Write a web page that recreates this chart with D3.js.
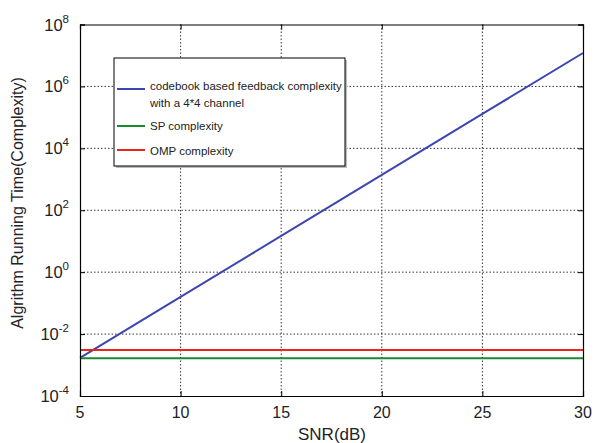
<!DOCTYPE html>
<html><head><meta charset="utf-8">
<script src="https://cdn.jsdelivr.net/npm/d3@7"></script>
<style>body{margin:0;background:#fff}text{font-family:"Liberation Sans",Arial,sans-serif}</style>
</head><body><svg id="c" width="596" height="443"></svg>
<script>
const snr = [5, 10, 15, 20, 25, 30];
const codebook = [1.7e-3, 0.158, 14.8, 1380, 1.29e5, 1.2e7];
const spVals = [1.65e-3, 1.65e-3, 1.65e-3, 1.65e-3, 1.65e-3, 1.65e-3];
const ompVals = [3.05e-3, 3.05e-3, 3.05e-3, 3.05e-3, 3.05e-3, 3.05e-3];
const xTicks = [5, 10, 15, 20, 25, 30];
const yExps = [-4, -2, 0, 2, 4, 6, 8];
const seriesNames = ["codebook based feedback complexity|with a 4*4 channel", "SP complexity", "OMP complexity"];
const seriesColors = ["#3d46b0", "#1a8a2e", "#e8261c"];

const svg = d3.select("#c");
const L = 80, R = 583, T = 24.5, B = 396;
const x = d3.scaleLinear().domain([5, 30]).range([L, R]);
const y = d3.scaleLog().domain([1e-4, 1e8]).range([B, T]);

// grid
const g = svg.append("g");
xTicks.slice(1, -1).forEach(v => g.append("line").attr("x1", x(v)).attr("x2", x(v)).attr("y1", T).attr("y2", B)
  .attr("stroke", "#000").attr("stroke-width", 0.8).attr("stroke-dasharray", "1.5,2"));
yExps.slice(1, -1).forEach(e => g.append("line").attr("x1", L).attr("x2", R).attr("y1", y(Math.pow(10, e))).attr("y2", y(Math.pow(10, e)))
  .attr("stroke", "#000").attr("stroke-width", 0.8).attr("stroke-dasharray", "1.5,2"));

// series
const line = d3.line().x((d, i) => x(snr[i])).y(d => y(d));
[codebook, spVals, ompVals].forEach((vals, k) => {
  svg.append("path").attr("d", line(vals)).attr("fill", "none").attr("stroke", seriesColors[k]).attr("stroke-width", 2);
});

// axes with inward ticks
const ax = svg.append("g");
const xa = d3.axisBottom(x).tickValues(xTicks).tickSize(-5).tickFormat("");
const xt = d3.axisTop(x).tickValues(xTicks).tickSize(-5).tickFormat("");
const ya = d3.axisLeft(y).tickValues(yExps.map(e => Math.pow(10, e))).tickSize(-5).tickFormat("");
const yr = d3.axisRight(y).tickValues(yExps.map(e => Math.pow(10, e))).tickSize(-5).tickFormat("");
[ [xa, `translate(0,${B})`], [xt, `translate(0,${T})`], [ya, `translate(${L},0)`], [yr, `translate(${R},0)`] ].forEach(([a, tr]) => {
  const gg = ax.append("g").attr("transform", tr).call(a);
  gg.selectAll("path,line").attr("stroke", "#000").attr("stroke-width", 1);
  gg.select(".domain").attr("stroke-width", 1.2);
});

// tick labels
xTicks.forEach(v => svg.append("text").attr("x", x(v)).attr("y", 418).attr("text-anchor", "middle")
  .attr("font-size", 16).attr("fill", "#222").text(v));
yExps.forEach(e => {
  const t = svg.append("text").attr("x", 69).attr("y", y(Math.pow(10, e)) + 6).attr("text-anchor", "end")
    .attr("font-size", 16.5).attr("fill", "#222");
  t.append("tspan").text("10");
  t.append("tspan").attr("dy", -8).attr("font-size", 11.5).text(e);
});

// axis titles
svg.append("text").attr("x", 332).attr("y", 440).attr("text-anchor", "middle").attr("font-size", 17).attr("fill", "#222").text("SNR(dB)");
svg.append("text").attr("transform", "translate(23,203) rotate(-90)").attr("text-anchor", "middle").attr("font-size", 16).attr("fill", "#222")
  .text("Algrithm Running Time(Complexity)");

// legend
const lg = svg.append("g");
lg.append("rect").attr("x", 116).attr("y", 60).attr("width", 231).attr("height", 108).attr("fill", "#bbb");
lg.append("rect").attr("x", 114).attr("y", 58).attr("width", 231).attr("height", 108).attr("fill", "#fff").attr("stroke", "#000").attr("stroke-width", 1);
const ly = [89, 126, 150];
const ty = [[89.5, 106.5], [130], [154.5]];
seriesNames.forEach((n, k) => {
  lg.append("line").attr("x1", 117).attr("x2", 145).attr("y1", ly[k]).attr("y2", ly[k]).attr("stroke", seriesColors[k]).attr("stroke-width", 2);
  n.split("|").forEach((s, j) => lg.append("text").attr("x", 150).attr("y", ty[k][j]).attr("font-size", 11.5).attr("fill", "#222").text(s));
});
</script></body></html>
